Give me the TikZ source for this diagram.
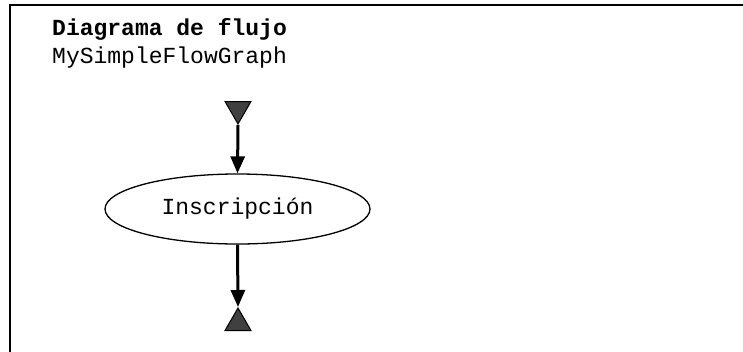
\documentclass[tikz,border=0pt]{standalone}
\usepackage{fontspec}
\setmonofont{Liberation Mono}
\usetikzlibrary{shapes.geometric,arrows.meta}

\begin{document}
\begin{tikzpicture}[x=1pt,y=-1pt,
    terminal/.style={regular polygon, regular polygon sides=3, draw=black, line width=1pt, fill=black!75, inner sep=0pt, minimum size=30pt},
    tarea/.style={ellipse, draw=black, line width=1.3pt, minimum width=265pt, minimum height=70pt, inner sep=0pt, font=\ttfamily\fontsize{23}{28}\selectfont},
    flecha/.style={line width=3pt, -{Triangle[length=17pt,width=14pt]}},
    texto/.style={anchor=base west, inner sep=0pt, font=\ttfamily\fontsize{23}{28}\selectfont}]
    \useasboundingbox (0,0) rectangle (743,351);
    \begin{scope}
        \clip (0,0) rectangle (743,351);
        \draw[line width=2pt] (10,4.5) rectangle (780,380);
    \end{scope}
    \node[texto, font=\ttfamily\bfseries\fontsize{23}{28}\selectfont] (titulo) at (52,35) {Diagrama de flujo};
    \node[texto] (nombre) at (52,63) {MySimpleFlowGraph};
    \node[terminal, shape border rotate=180] (inicio) at (238,109) {};
    \node[tarea] (inscripcion) at (237.5,209) {Inscripción};
    \node[terminal] (fin) at (238,323) {};
    \draw[flecha] (inicio.corner 1) -- (inscripcion.north);
    \draw[flecha] (inscripcion.south) -- (fin.corner 1);
\end{tikzpicture}
\end{document}
